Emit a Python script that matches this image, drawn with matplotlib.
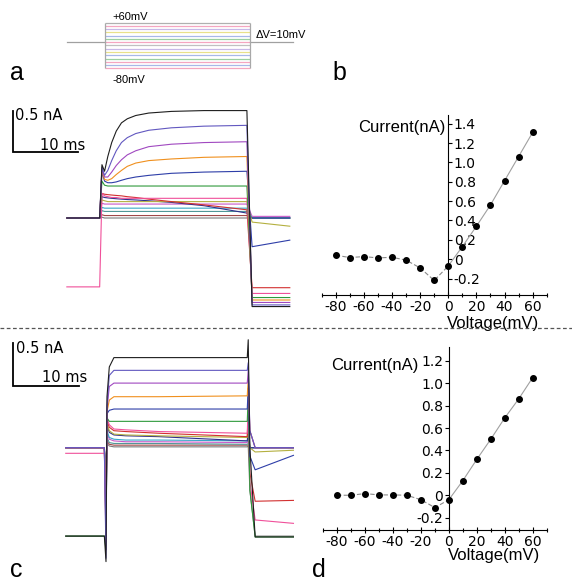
import matplotlib
matplotlib.use("Agg")
import matplotlib.pyplot as plt
from matplotlib import transforms
from matplotlib.lines import Line2D
from matplotlib.ticker import MultipleLocator, FuncFormatter

plt.rcParams['font.family'] = ['Liberation Sans', 'DejaVu Sans']
plt.rcParams['axes.unicode_minus'] = False

W, H = 572, 583

# ---------------------------------------------------------------- data ---- #
# step protocol (mV)
STEP_MV = [60, 50, 40, 30, 20, 10, 0, -10, -20, -30, -40, -50, -60, -70, -80]
HOLD_MV = 0
PROTO_T = [-5.85, 0.0, 22.3, 28.9]          # start, step on, step off, end (ms)
PROTO_COLORS = ['#b0b0b0', '#f4a6c0', '#c8b8e8', '#e8e08a', '#a8b8e8',
                '#9ad0a0', '#f4a6c0', '#c0c0c0', '#c8b8e8', '#e8e08a',
                '#a8b8e8', '#9ad0a0', '#f4a6c0', '#a8b8e8', '#f4a6c0']

# current traces, colours per step (top trace first)
TRACE_COLORS = ['#1e1e1e', '#6258c0', '#a048c0', '#f0901e', '#2e3ea8',
                '#2f9a3c', '#f0509a', '#d23030', '#b4b040', '#30308c',
                '#38a8c8', '#c858c8', '#509898', '#a04848', '#7a7a7a']

# panel a: knot times (ms) and currents (nA)
TA = [-5.1, -0.05, 0.3, 0.7, 1.2, 1.8, 2.5, 3.3, 4.2, 5.5, 7.5, 11, 16, 22.6, 23.4, 29.2]
IA = [
    [0, 0, 0.65, 0.57, 0.75, 0.92, 1.06, 1.16, 1.21, 1.25, 1.28, 1.30, 1.31, 1.31, -1.08, -1.08],
    [0, 0, 0.62, 0.52, 0.58, 0.70, 0.82, 0.92, 0.98, 1.03, 1.07, 1.10, 1.12, 1.13, -1.06, -1.06],
    [0, 0, 0.60, 0.50, 0.50, 0.56, 0.64, 0.71, 0.77, 0.82, 0.87, 0.90, 0.92, 0.93, -1.03, -1.03],
    [0, 0, 0.58, 0.47, 0.46, 0.48, 0.53, 0.58, 0.63, 0.67, 0.70, 0.72, 0.74, 0.75, -1.00, -1.00],
    [0, 0, 0.56, 0.45, 0.43, 0.43, 0.44, 0.46, 0.48, 0.50, 0.52, 0.545, 0.56, 0.57, -0.35, -0.27],
    [0, 0, 0.45, 0.40, 0.39, 0.39, 0.39, 0.39, 0.39, 0.39, 0.39, 0.39, 0.39, 0.39, -0.97, -0.97],
    [-0.84, -0.84, 0.30, 0.27, 0.26, 0.25, 0.25, 0.24, 0.24, 0.24, 0.24, 0.24, 0.24, 0.24, -0.92, -0.92],
    [0, 0, 0.30, 0.29, 0.285, 0.28, 0.275, 0.27, 0.26, 0.25, 0.23, 0.20, 0.16, 0.10, -0.85, -0.85],
    [0, 0, 0.22, 0.21, 0.20, 0.20, 0.20, 0.20, 0.20, 0.20, 0.20, 0.20, 0.20, 0.20, -0.05, -0.10],
    [0, 0, 0.26, 0.25, 0.245, 0.24, 0.235, 0.23, 0.225, 0.22, 0.21, 0.19, 0.15, 0.06, 0.0, 0.0],
    [0, 0, 0.13, 0.12, 0.12, 0.12, 0.12, 0.12, 0.12, 0.12, 0.12, 0.12, 0.12, 0.12, 0.0, 0.0],
    [0, 0, 0.18, 0.17, 0.17, 0.17, 0.17, 0.17, 0.17, 0.17, 0.17, 0.17, 0.17, 0.17, 0.02, 0.02],
    [0, 0, 0.09, 0.08, 0.08, 0.08, 0.08, 0.08, 0.08, 0.08, 0.08, 0.08, 0.08, 0.08, 0.0, 0.0],
    [0, 0, 0.04, 0.03, 0.03, 0.03, 0.03, 0.03, 0.03, 0.03, 0.03, 0.03, 0.03, 0.03, 0.0, 0.0],
    [0, 0, 0.01, 0.0, 0.0, 0.0, 0.0, 0.0, 0.0, 0.0, 0.0, 0.0, 0.0, 0.0, 0.0, 0.0],
]

# panel c: knot times (ms) and currents (nA)
TC = [-6.1, -0.25, 0.0, 0.15, 0.5, 1.2, 3.0, 8.0, 21.4, 21.55, 21.8, 22.6, 28.4]
IC = [
    [-1.04, -1.04, -1.34, 0.60, 0.95, 1.06, 1.06, 1.06, 1.06, 1.27, 0.0, -1.05, -1.05],
    [0, 0, -1.30, 0.50, 0.85, 0.91, 0.91, 0.91, 0.91, 1.00, 0.2, 0.0, 0.0],
    [0, 0, -1.20, 0.45, 0.72, 0.76, 0.76, 0.76, 0.76, 0.90, 0.2, 0.0, 0.0],
    [0, 0, -1.10, 0.42, 0.56, 0.60, 0.60, 0.60, 0.61, 0.80, 0.2, 0.0, 0.0],
    [0, 0, -1.00, 0.40, 0.44, 0.455, 0.455, 0.455, 0.455, 0.70, -0.1, -0.26, -0.09],
    [-1.04, -1.04, -1.20, 0.35, 0.31, 0.31, 0.31, 0.31, 0.31, 0.60, -0.5, -1.05, -1.05],
    [-0.066, -0.066, -0.90, 0.35, 0.27, 0.22, 0.21, 0.19, 0.17, 0.50, -0.4, -0.85, -0.89],
    [0, 0, -0.80, 0.32, 0.24, 0.20, 0.19, 0.17, 0.13, 0.40, -0.3, -0.63, -0.62],
    [0, 0, -0.70, 0.28, 0.20, 0.16, 0.15, 0.14, 0.12, 0.30, 0.0, -0.05, -0.03],
    [0, 0, -0.60, 0.27, 0.18, 0.15, 0.14, 0.13, 0.08, 0.20, 0.0, 0.0, 0.0],
    [0, 0, -0.50, 0.20, 0.12, 0.10, 0.09, 0.09, 0.08, 0.10, 0.0, 0.0, 0.0],
    [0, 0, -0.40, 0.18, 0.10, 0.08, 0.07, 0.07, 0.06, 0.10, 0.0, 0.0, 0.0],
    [0, 0, -0.30, 0.12, 0.06, 0.05, 0.05, 0.05, 0.04, 0.05, 0.0, 0.0, 0.0],
    [0, 0, -0.20, 0.08, 0.04, 0.03, 0.03, 0.03, 0.03, 0.03, 0.0, 0.0, 0.0],
    [-1.04, -1.04, -1.10, 0.05, 0.02, 0.01, 0.01, 0.01, 0.01, 0.02, -0.5, -1.04, -1.04],
]

# I-V curves
IV_MV = [-80, -70, -60, -50, -40, -30, -20, -10, 0, 10, 20, 30, 40, 50, 60]
IV_B = [0.041, 0.017, 0.027, 0.013, 0.02, -0.01, -0.09, -0.22, -0.07,
        0.13, 0.34, 0.56, 0.81, 1.06, 1.31]
IV_D = [0.0, 0.0, 0.015, 0.003, 0.003, 0.0, -0.04, -0.11, -0.04,
        0.13, 0.32, 0.50, 0.69, 0.86, 1.05]

SCALE_MS, SCALE_NA = 10, 0.5

# ---------------------------------------------------------------- layout -- #
fig = plt.figure(figsize=(W / 100, H / 100), dpi=100)


def px_axes(left, top, right, bottom):
    """axes from pixel box (origin top-left)"""
    ax = fig.add_axes([left / W, (H - bottom) / H, (right - left) / W, (bottom - top) / H])
    return ax


def scale_bar(ax, t0, i0, lab_na, lab_ms):
    ax.plot([t0, t0, t0 + SCALE_MS], [i0 + SCALE_NA, i0, i0], color='black', lw=1.3,
            solid_joinstyle='miter')
    ax.text(lab_na[0], lab_na[1], f'{SCALE_NA} nA', fontsize=10.5, va='center', ha='left',
            family='DejaVu Sans')
    ax.text(lab_ms[0], lab_ms[1], f'{SCALE_MS} ms', fontsize=10.5, va='center', ha='left',
            family='DejaVu Sans')


# ---- protocol --------------------------------------------------------------
axp = px_axes(60, 5, 310, 88)
axp.set_xlim((60 - 105) / 6.5, (310 - 105) / 6.5)
axp.set_ylim(60 - (88 - 22.7) / 0.3257, 60 + (22.7 - 5) / 0.3257)
axp.axis('off')
for v, c in zip(STEP_MV, PROTO_COLORS):
    axp.hlines(v, PROTO_T[1], PROTO_T[2], color=c, lw=0.9)
axp.plot(PROTO_T[:2], [HOLD_MV, HOLD_MV], color='#a0a0a0', lw=0.9)
axp.plot(PROTO_T[2:], [HOLD_MV, HOLD_MV], color='#a0a0a0', lw=0.9)
axp.vlines(PROTO_T[1:3], min(STEP_MV), max(STEP_MV), color='#a8a8a8', lw=0.9)
axp.text(1.1, 77, f'+{max(STEP_MV)}mV', fontsize=8, va='center', ha='left')
axp.text(1.2, -116, f'{min(STEP_MV)}mV', fontsize=8, va='center', ha='left')
axp.text(23.1, 22, 'ΔV=10mV', fontsize=8, va='center', ha='left')

# ---- panel a traces --------------------------------------------------------
axa = px_axes(0, 95, 300, 320)
axa.set_xlim(-100 / 6.5, 200 / 6.5)
axa.set_ylim(-(320 - 218) / 82, (218 - 95) / 82)
axa.axis('off')
for vals, c in reversed(list(zip(IA, TRACE_COLORS))):
    axa.plot(TA, vals, color=c, lw=0.8)
scale_bar(axa, -13.38, 0.805, (-13.1, 1.256), (-9.2, 0.89))

# ---- panel c traces --------------------------------------------------------
axc = px_axes(0, 335, 300, 583)
axc.set_xlim(-106 / 6.6, 194 / 6.6)
axc.set_ylim(-(583 - 447.7) / 85, (447.7 - 335) / 85)
axc.axis('off')
for vals, c in reversed(list(zip(IC, TRACE_COLORS))):
    axc.plot(TC, vals, color=c, lw=0.8)
scale_bar(axc, -14.05, 0.729, (-13.6, 1.17), (-9.7, 0.83))


# ---- I-V panels ------------------------------------------------------------
def iv_panel(ax, ys, ylim, labels_right, cur_xy, volt_y):
    # dashed below 0 mV, plain line above
    ax.plot(IV_MV[:9], ys[:9], color='#8a8a8a', lw=0.8, ls=(0, (4, 2)), zorder=2)
    ax.plot(IV_MV[8:], ys[8:], color='#a0a0a0', lw=0.8, zorder=2)
    ax.plot(IV_MV, ys, 'o', color='black', ms=4, zorder=3)
    ax.set_xlim(-90, 70)
    ax.set_ylim(*ylim)
    for s in ['top', 'left', 'right']:
        ax.spines[s].set_visible(False)
    side = 'right' if labels_right else 'left'
    ax.spines[side].set_visible(True)
    ax.spines[side].set_position(('data', 0))
    if labels_right:
        ax.yaxis.tick_right()
    ax.spines['bottom'].set_linewidth(0.8)
    ax.spines[side].set_linewidth(0.8)
    ax.xaxis.set_major_locator(MultipleLocator(20))
    ax.xaxis.set_minor_locator(MultipleLocator(10))
    ax.yaxis.set_major_locator(MultipleLocator(0.2))
    ax.yaxis.set_major_formatter(FuncFormatter(lambda v, p: '0' if abs(v) < 1e-9 else f'{v:.1f}'))
    ax.tick_params(axis='x', which='major', direction='inout', length=5, width=0.8,
                   labelsize=10, pad=1, labelfontfamily='DejaVu Sans')
    ax.tick_params(axis='x', which='minor', direction='inout', length=3, width=0.8)
    ax.tick_params(axis='y', direction='out', length=3, width=0.8, labelsize=10, pad=1,
                   labelfontfamily='DejaVu Sans')
    tr = transforms.blended_transform_factory(ax.transData, ax.transAxes)
    ax.text(cur_xy[0], cur_xy[1], 'Current(nA)', transform=tr, fontsize=12,
            ha='right', va='center')
    ax.text(-1, volt_y, 'Voltage(mV)', transform=tr, fontsize=12, ha='left', va='center')
    ax.patch.set_alpha(0)


axb = px_axes(321.7, 115, 546.7, 295)
iv_panel(axb, IV_B, (-0.37, 1.49), True, (-2, 0.928), -0.156)

axd = px_axes(323, 347.3, 546.7, 530)
iv_panel(axd, IV_D, (-0.31, 1.32), False, (-22, 0.903), -0.137)

# ---- separator and panel letters -------------------------------------------
fig.add_artist(Line2D([0, 1], [(H - 328) / H] * 2, transform=fig.transFigure,
                      color='#555555', lw=0.9, ls=(0, (3, 2))))
for letter, x, y in [('a', 10, 80), ('b', 332, 80), ('c', 10, 577), ('d', 312, 577)]:
    fig.text(x / W, (H - y) / H, letter, fontsize=18, ha='left', va='baseline')

fig.savefig('out.png', dpi=100)
